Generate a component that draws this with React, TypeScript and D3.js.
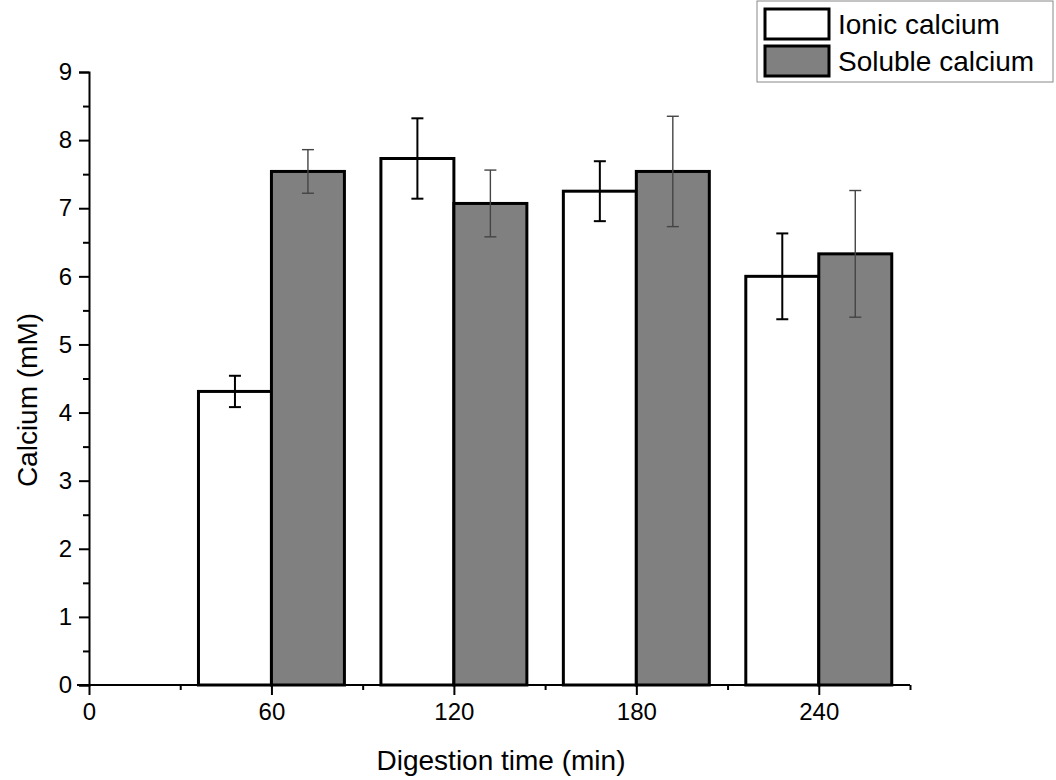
import { useEffect, useRef } from 'react'
import * as d3 from 'd3'

const times = [60, 120, 180, 240]
const ionic = [4.31, 7.73, 7.25, 6.0]
const ionicErr = [0.23, 0.59, 0.44, 0.63]
const soluble = [7.54, 7.07, 7.54, 6.33]
const solubleErr = [0.32, 0.49, 0.81, 0.93]
const yTicks = [0, 1, 2, 3, 4, 5, 6, 7, 8, 9]
const xTicks = [0, 60, 120, 180, 240]
const seriesNames = ['Ionic calcium', 'Soluble calcium']

const FONT = '"Liberation Sans", Arial, sans-serif'
const BAR_W = 24

export default function App() {
  const svgRef = useRef<SVGSVGElement>(null)

  useEffect(() => {
    if (!svgRef.current) return
    const svg = d3.select(svgRef.current)
    svg.selectAll('*').remove()

    const x = d3.scaleLinear().domain([0, 270]).range([89, 910])
    const y = d3.scaleLinear().domain([0, 9]).range([685, 72])

    const series = [
      { name: seriesNames[0], vals: ionic, errs: ionicErr, fill: '#ffffff', off: -BAR_W, errColor: '#000', errW: 2 },
      { name: seriesNames[1], vals: soluble, errs: solubleErr, fill: '#808080', off: 0, errColor: '#444', errW: 1.4 },
    ]

    // bars
    series.forEach(s => {
      svg.append('g').selectAll('rect').data(times).join('rect')
        .attr('x', t => x(t + s.off))
        .attr('y', (_, i) => y(s.vals[i]))
        .attr('width', x(BAR_W) - x(0))
        .attr('height', (_, i) => y(0) - y(s.vals[i]))
        .attr('fill', s.fill).attr('stroke', '#000').attr('stroke-width', 3)
    })

    // error bars
    series.forEach(s => {
      const g = svg.append('g').attr('stroke', s.errColor).attr('stroke-width', s.errW)
      times.forEach((t, i) => {
        const cx = x(t + s.off + BAR_W / 2)
        const hi = y(s.vals[i] + s.errs[i])
        const lo = y(s.vals[i] - s.errs[i])
        g.append('line').attr('x1', cx).attr('x2', cx).attr('y1', hi).attr('y2', lo)
        g.append('line').attr('x1', cx - 6).attr('x2', cx + 6).attr('y1', hi).attr('y2', hi)
        g.append('line').attr('x1', cx - 6).attr('x2', cx + 6).attr('y1', lo).attr('y2', lo)
      })
    })

    // y axis
    const gy = svg.append('g').attr('transform', `translate(${x(0)},0)`)
    gy.call(d3.axisLeft(y).tickValues(yTicks).tickSize(10).tickPadding(7).tickFormat(d3.format('d')))
    gy.append('g').call(d3.axisLeft(y).tickValues(d3.range(0.5, 9, 1)).tickSize(6).tickFormat(() => ''))
      .call(a => a.select('.domain').remove())

    // x axis
    const gx = svg.append('g').attr('transform', `translate(0,${y(0)})`)
    gx.call(d3.axisBottom(x).tickValues(xTicks).tickSize(10).tickPadding(8).tickSizeOuter(0))
    gx.append('g').call(d3.axisBottom(x).tickValues(d3.range(30, 271, 60)).tickSize(5).tickFormat(() => ''))
      .call(a => a.select('.domain').remove())
    gx.select('.domain').attr('d', `M77,0H${x(270)}`)

    svg.selectAll('.domain').attr('stroke', '#000').attr('stroke-width', 2)
    svg.selectAll('.tick line').attr('stroke', '#000').attr('stroke-width', 2)
    svg.selectAll('.tick text').attr('fill', '#000')
      .style('font-size', '24px').style('font-family', FONT)

    // axis titles
    svg.append('text').attr('x', 501).attr('y', 770).attr('text-anchor', 'middle')
      .attr('font-size', 28).attr('font-family', FONT).attr('fill', '#000').text('Digestion time (min)')
    svg.append('text').attr('transform', `translate(37,400) rotate(-90)`).attr('text-anchor', 'middle')
      .attr('font-size', 28).attr('font-family', FONT).attr('fill', '#000').text('Calcium (mM)')

    // legend
    const leg = svg.append('g')
    leg.append('rect').attr('x', 757).attr('y', 1).attr('width', 296).attr('height', 81)
      .attr('fill', '#fff').attr('stroke', '#888').attr('stroke-width', 1)
    series.forEach((s, i) => {
      leg.append('rect').attr('x', 765).attr('y', 9 + i * 37).attr('width', 64).attr('height', 30)
        .attr('fill', s.fill).attr('stroke', '#000').attr('stroke-width', 3)
      leg.append('text').attr('x', 838).attr('y', 34 + i * 37).attr('font-size', 28)
        .attr('font-family', FONT).attr('fill', '#000').text(s.name)
    })
  }, [])

  return (
    <svg ref={svgRef} width={1056} height={780}
      style={{ position: 'absolute', left: 0, top: 0, background: '#fff' }} />
  )
}
